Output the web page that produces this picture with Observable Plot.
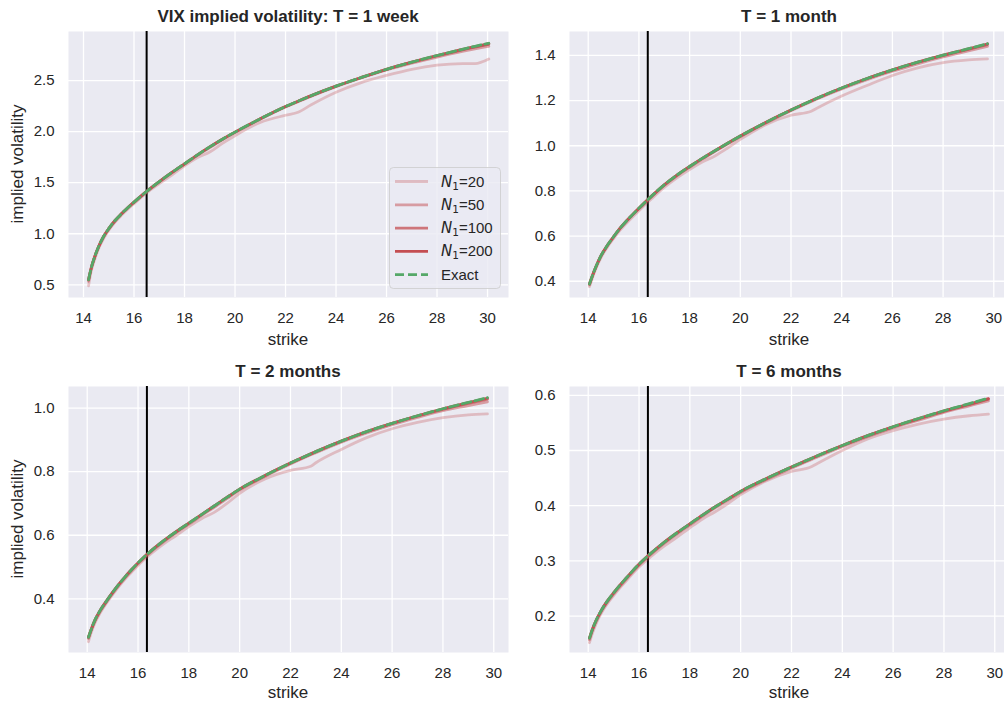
<!DOCTYPE html>
<html>
<head>
<meta charset="utf-8">
<script src="https://cdn.jsdelivr.net/npm/d3@7"></script>
<script src="https://cdn.jsdelivr.net/npm/@observablehq/plot@0.6"></script>
<style>
  html, body { margin: 0; padding: 0; background: #ffffff; overflow: hidden; }
  #root { position: relative; width: 1004px; height: 702px; overflow: hidden; font-family: "Liberation Sans", Arial, sans-serif; color: #262626; }
  .panel { position: absolute; }
  #overlay { position: absolute; left: 0; top: 0; pointer-events: none; }
</style>
</head>
<body>
<div id="root"></div>
<script>
// ---------- data ----------
const seriesNames = ["N1=20", "N1=50", "N1=100", "N1=200", "Exact"];
const panelTitles = ["VIX implied volatility: T = 1 week", "T = 1 month", "T = 2 months", "T = 6 months"];
const forwards = [16.5, 16.35, 16.35, 16.35];
const xTicks = [14, 16, 18, 20, 22, 24, 26, 28, 30];
const yTicks1 = [0.5, 1.0, 1.5, 2.0, 2.5];
const yTicks2 = [0.4, 0.6, 0.8, 1.0, 1.2, 1.4];
const yTicks3 = [0.4, 0.6, 0.8, 1.0];
const yTicks4 = [0.2, 0.3, 0.4, 0.5, 0.6];

// T = 1 week
const strikes1 = [14.2, 14.3, 14.45, 14.6, 14.8, 15, 15.25, 15.5, 15.75, 16, 16.5, 17, 17.5, 18, 18.5, 19, 19.5, 20, 21, 22, 22.5, 23, 24, 25, 26, 27, 28, 29, 29.5, 30.05];
const exact1 = [0.55, 0.66, 0.78, 0.875, 0.975, 1.05, 1.13, 1.195, 1.255, 1.31, 1.415, 1.51, 1.60, 1.685, 1.77, 1.85, 1.925, 1.995, 2.125, 2.245, 2.298, 2.35, 2.445, 2.53, 2.61, 2.68, 2.745, 2.805, 2.835, 2.865];
const n20_1 = [0.49, 0.63, 0.755, 0.855, 0.955, 1.035, 1.115, 1.18, 1.24, 1.295, 1.40, 1.49, 1.575, 1.665, 1.745, 1.80, 1.885, 1.96, 2.09, 2.16, 2.19, 2.26, 2.385, 2.48, 2.55, 2.61, 2.65, 2.665, 2.665, 2.71];
const n50_1 = [0.535, 0.65, 0.775, 0.87, 0.97, 1.045, 1.125, 1.19, 1.25, 1.305, 1.41, 1.505, 1.595, 1.68, 1.765, 1.843, 1.92, 1.99, 2.12, 2.24, 2.293, 2.345, 2.44, 2.525, 2.603, 2.67, 2.73, 2.785, 2.81, 2.835];
const n100_1 = [0.55, 0.66, 0.78, 0.875, 0.975, 1.05, 1.13, 1.195, 1.255, 1.31, 1.415, 1.51, 1.60, 1.685, 1.77, 1.85, 1.925, 1.995, 2.125, 2.245, 2.298, 2.35, 2.445, 2.53, 2.61, 2.678, 2.742, 2.80, 2.828, 2.855];
const n200_1 = [0.55, 0.66, 0.78, 0.875, 0.975, 1.05, 1.13, 1.195, 1.255, 1.31, 1.415, 1.51, 1.60, 1.685, 1.77, 1.85, 1.925, 1.995, 2.125, 2.245, 2.298, 2.35, 2.445, 2.53, 2.61, 2.68, 2.745, 2.804, 2.833, 2.862];

// strikes for T = 1, 2, 6 months
const strikesM = [14.05, 14.15, 14.3, 14.5, 14.75, 15, 15.25, 15.5, 15.75, 16, 16.5, 17, 17.5, 18, 18.5, 19, 19.5, 20, 21, 22, 22.8, 23, 24, 25, 26, 27, 28, 29, 29.75];

// T = 1 month
const exact2 = [0.388, 0.42, 0.463, 0.512, 0.558, 0.597, 0.634, 0.666, 0.695, 0.723, 0.777, 0.827, 0.87, 0.908, 0.944, 0.978, 1.011, 1.043, 1.103, 1.158, 1.199, 1.209, 1.256, 1.298, 1.336, 1.37, 1.401, 1.43, 1.452];
const n20_2 = [0.376, 0.41, 0.455, 0.504, 0.55, 0.589, 0.625, 0.656, 0.685, 0.712, 0.765, 0.815, 0.858, 0.895, 0.928, 0.955, 0.99, 1.028, 1.093, 1.135, 1.153, 1.165, 1.22, 1.267, 1.311, 1.345, 1.368, 1.38, 1.385];
const n50_2 = [0.384, 0.417, 0.461, 0.51, 0.556, 0.595, 0.632, 0.664, 0.693, 0.72, 0.774, 0.824, 0.867, 0.905, 0.941, 0.975, 1.008, 1.04, 1.1, 1.155, 1.196, 1.206, 1.252, 1.293, 1.33, 1.363, 1.393, 1.42, 1.44];
const n100_2 = [0.388, 0.42, 0.463, 0.512, 0.558, 0.597, 0.634, 0.666, 0.695, 0.723, 0.777, 0.827, 0.87, 0.908, 0.944, 0.978, 1.011, 1.043, 1.103, 1.158, 1.199, 1.209, 1.256, 1.298, 1.335, 1.369, 1.399, 1.427, 1.448];
const n200_2 = [0.388, 0.42, 0.463, 0.512, 0.558, 0.597, 0.634, 0.666, 0.695, 0.723, 0.777, 0.827, 0.87, 0.908, 0.944, 0.978, 1.011, 1.043, 1.103, 1.158, 1.199, 1.209, 1.256, 1.298, 1.336, 1.37, 1.401, 1.429, 1.451];

// T = 2 months
const exact3 = [0.279, 0.302, 0.332, 0.362, 0.392, 0.42, 0.446, 0.47, 0.492, 0.513, 0.55, 0.582, 0.611, 0.638, 0.665, 0.692, 0.719, 0.745, 0.788, 0.827, 0.856, 0.863, 0.896, 0.926, 0.952, 0.976, 0.998, 1.018, 1.033];
const n20_3 = [0.265, 0.292, 0.323, 0.354, 0.385, 0.413, 0.439, 0.463, 0.484, 0.505, 0.541, 0.572, 0.599, 0.627, 0.652, 0.672, 0.70, 0.732, 0.777, 0.804, 0.817, 0.828, 0.87, 0.907, 0.935, 0.955, 0.97, 0.979, 0.982];
const n50_3 = [0.275, 0.299, 0.329, 0.359, 0.389, 0.417, 0.443, 0.467, 0.489, 0.51, 0.547, 0.579, 0.608, 0.635, 0.662, 0.688, 0.715, 0.742, 0.785, 0.824, 0.853, 0.86, 0.893, 0.922, 0.948, 0.971, 0.992, 1.008, 1.02];
const n100_3 = [0.279, 0.302, 0.332, 0.362, 0.392, 0.42, 0.446, 0.47, 0.492, 0.513, 0.55, 0.582, 0.611, 0.638, 0.665, 0.692, 0.719, 0.745, 0.788, 0.827, 0.856, 0.863, 0.896, 0.926, 0.952, 0.975, 0.996, 1.015, 1.028];
const n200_3 = [0.279, 0.302, 0.332, 0.362, 0.392, 0.42, 0.446, 0.47, 0.492, 0.513, 0.55, 0.582, 0.611, 0.638, 0.665, 0.692, 0.719, 0.745, 0.788, 0.827, 0.856, 0.863, 0.896, 0.926, 0.952, 0.976, 0.998, 1.017, 1.031];

// T = 6 months
const exact4 = [0.16, 0.174, 0.191, 0.209, 0.227, 0.242, 0.256, 0.269, 0.282, 0.294, 0.315, 0.334, 0.351, 0.367, 0.383, 0.398, 0.412, 0.426, 0.449, 0.47, 0.486, 0.49, 0.509, 0.527, 0.543, 0.558, 0.572, 0.585, 0.595];
const n20_4 = [0.152, 0.167, 0.185, 0.204, 0.222, 0.237, 0.251, 0.264, 0.277, 0.289, 0.309, 0.327, 0.343, 0.36, 0.376, 0.389, 0.404, 0.42, 0.445, 0.462, 0.471, 0.476, 0.50, 0.521, 0.536, 0.548, 0.557, 0.563, 0.566];
const n50_4 = [0.157, 0.172, 0.189, 0.207, 0.225, 0.24, 0.254, 0.267, 0.28, 0.292, 0.313, 0.332, 0.349, 0.365, 0.381, 0.396, 0.41, 0.424, 0.447, 0.468, 0.484, 0.488, 0.507, 0.525, 0.541, 0.555, 0.569, 0.581, 0.59];
const n100_4 = [0.16, 0.174, 0.191, 0.209, 0.227, 0.242, 0.256, 0.269, 0.282, 0.294, 0.315, 0.334, 0.351, 0.367, 0.383, 0.398, 0.412, 0.426, 0.449, 0.47, 0.486, 0.49, 0.509, 0.527, 0.543, 0.557, 0.571, 0.583, 0.593];
const n200_4 = [0.16, 0.174, 0.191, 0.209, 0.227, 0.242, 0.256, 0.269, 0.282, 0.294, 0.315, 0.334, 0.351, 0.367, 0.383, 0.398, 0.412, 0.426, 0.449, 0.47, 0.486, 0.49, 0.509, 0.527, 0.543, 0.558, 0.572, 0.584, 0.594];

// ---------- styling ----------
const redBase = "#C44E52";
const redOpacity = [0.3, 0.5, 0.75, 1.0];
const greenExact = "#55A868";
const bg = "#EAEAF2";
const textColor = "#262626";
const fontFamily = "'Liberation Sans', Arial, sans-serif";

const panels = [
  { strikes: strikes1, values: [n20_1, n50_1, n100_1, n200_1, exact1], yTicks: yTicks1, yDomain: [0.376, 2.98], xDomain: [13.406, 30.83],
    left: 0, top: 0, width: 512, height: 350, mL: 68, mR: 4, mT: 31, mB: 53, fmt: ".1f" },
  { strikes: strikesM, values: [n20_2, n50_2, n100_2, n200_2, exact2], yTicks: yTicks2, yDomain: [0.328, 1.506], xDomain: [13.262, 30.58],
    left: 512, top: 0, width: 496, height: 350, mL: 57, mR: 0, mT: 31, mB: 53, fmt: ".1f" },
  { strikes: strikesM, values: [n20_3, n50_3, n100_3, n200_3, exact3], yTicks: yTicks3, yDomain: [0.231, 1.068], xDomain: [13.264, 30.58],
    left: 0, top: 355, width: 512, height: 347, mL: 68, mR: 4, mT: 31, mB: 50, fmt: ".1f" },
  { strikes: strikesM, values: [n20_4, n50_4, n100_4, n200_4, exact4], yTicks: yTicks4, yDomain: [0.134, 0.616], xDomain: [13.264, 30.54],
    left: 512, top: 355, width: 496, height: 347, mL: 57, mR: 0, mT: 31, mB: 50, fmt: ".1f" }
];

const root = document.getElementById("root");

panels.forEach((p, k) => {
  const lineMarks = [];
  seriesNames.forEach((name, s) => {
    const rows = p.strikes.map((x, i) => ({ strike: x, iv: p.values[s][i] }));
    if (name === "Exact") {
      lineMarks.push(Plot.line(rows, { x: "strike", y: "iv", stroke: greenExact, strokeWidth: 2.8, strokeDasharray: "9,4", curve: "monotone-x" }));
    } else {
      lineMarks.push(Plot.line(rows, { x: "strike", y: "iv", stroke: redBase, strokeOpacity: redOpacity[s], strokeWidth: 2.8, curve: "monotone-x" }));
    }
  });
  const chart = Plot.plot({
    width: p.width,
    height: p.height,
    marginLeft: p.mL,
    marginRight: p.mR,
    marginTop: p.mT,
    marginBottom: p.mB,
    style: { fontFamily: fontFamily, fontSize: "15px", color: textColor, background: "transparent", overflow: "visible" },
    x: { domain: p.xDomain },
    y: { domain: p.yDomain },
    marks: [
      Plot.frame({ fill: bg, stroke: null }),
      Plot.gridX(xTicks, { stroke: "white", strokeOpacity: 1, strokeWidth: 1.3 }),
      Plot.gridY(p.yTicks, { stroke: "white", strokeOpacity: 1, strokeWidth: 1.3 }),
      Plot.ruleX([forwards[k]], { stroke: "black", strokeWidth: 2 }),
      ...lineMarks,
      Plot.axisX(xTicks, { tickSize: 0, tickPadding: 15, fontSize: 15, label: null, fill: textColor }),
      Plot.axisY(p.yTicks, { tickSize: 0, tickPadding: 14, fontSize: 15, label: null, fill: textColor, tickFormat: d3.format(p.fmt) })
    ]
  });
  chart.classList.add("panel");
  chart.style.left = p.left + "px";
  chart.style.top = p.top + "px";
  root.appendChild(chart);
});

// ---------- overlay: titles, axis labels, legend ----------
const ns = "http://www.w3.org/2000/svg";
const ov = document.createElementNS(ns, "svg");
ov.setAttribute("id", "overlay");
ov.setAttribute("width", 1004);
ov.setAttribute("height", 702);
ov.style.fontFamily = fontFamily;
root.appendChild(ov);

function txt(x, y, s, opts = {}) {
  const t = document.createElementNS(ns, "text");
  t.setAttribute("x", x);
  t.setAttribute("y", y);
  t.setAttribute("fill", textColor);
  t.setAttribute("font-size", opts.size || 17);
  t.setAttribute("text-anchor", opts.anchor || "middle");
  if (opts.bold) t.setAttribute("font-weight", "bold");
  if (opts.transform) t.setAttribute("transform", opts.transform);
  t.textContent = s;
  ov.appendChild(t);
  return t;
}

const titlePos = [[288, 21.5], [789, 21.5], [288, 377], [789, 377]];
panelTitles.forEach((s, i) => txt(titlePos[i][0], titlePos[i][1], s, { bold: true }));
txt(288, 345, "strike");
txt(789, 345, "strike");
txt(288, 698, "strike");
txt(789, 698, "strike");
txt(0, 0, "implied volatility", { transform: "translate(22.5,164) rotate(-90)" });
txt(0, 0, "implied volatility", { transform: "translate(22.5,519) rotate(-90)" });

// legend
const lg = document.createElementNS(ns, "rect");
lg.setAttribute("x", 389.5); lg.setAttribute("y", 167.5);
lg.setAttribute("width", 111); lg.setAttribute("height", 121);
lg.setAttribute("rx", 4);
lg.setAttribute("fill", bg); lg.setAttribute("fill-opacity", 0.8);
lg.setAttribute("stroke", "#CCCCCC"); lg.setAttribute("stroke-opacity", 0.8);
ov.appendChild(lg);

const rowY = [181.5, 204.8, 228.1, 251.4, 274.7];
seriesNames.forEach((name, i) => {
  const l = document.createElementNS(ns, "line");
  l.setAttribute("x1", 395); l.setAttribute("x2", 428);
  l.setAttribute("y1", rowY[i]); l.setAttribute("y2", rowY[i]);
  l.setAttribute("stroke-width", 2.8);
  if (name === "Exact") {
    l.setAttribute("stroke", greenExact);
    l.setAttribute("stroke-dasharray", "9,4");
  } else {
    l.setAttribute("stroke", redBase);
    l.setAttribute("stroke-opacity", redOpacity[i]);
  }
  ov.appendChild(l);
  const t = document.createElementNS(ns, "text");
  t.setAttribute("x", 441);
  t.setAttribute("y", rowY[i] + 5);
  t.setAttribute("fill", textColor);
  t.setAttribute("font-size", 15);
  if (name === "Exact") {
    t.textContent = "Exact";
  } else {
    const a = document.createElementNS(ns, "tspan");
    a.setAttribute("font-style", "italic");
    a.setAttribute("font-family", "'DejaVu Sans', sans-serif");
    a.textContent = "N";
    const b = document.createElementNS(ns, "tspan");
    b.setAttribute("font-family", "'DejaVu Sans', sans-serif");
    b.setAttribute("font-size", 10.5);
    b.setAttribute("dy", 3);
    b.textContent = "1";
    const c = document.createElementNS(ns, "tspan");
    c.setAttribute("dy", -3);
    c.textContent = name.slice(2);
    t.appendChild(a); t.appendChild(b); t.appendChild(c);
  }
  ov.appendChild(t);
});
</script>
</body>
</html>
